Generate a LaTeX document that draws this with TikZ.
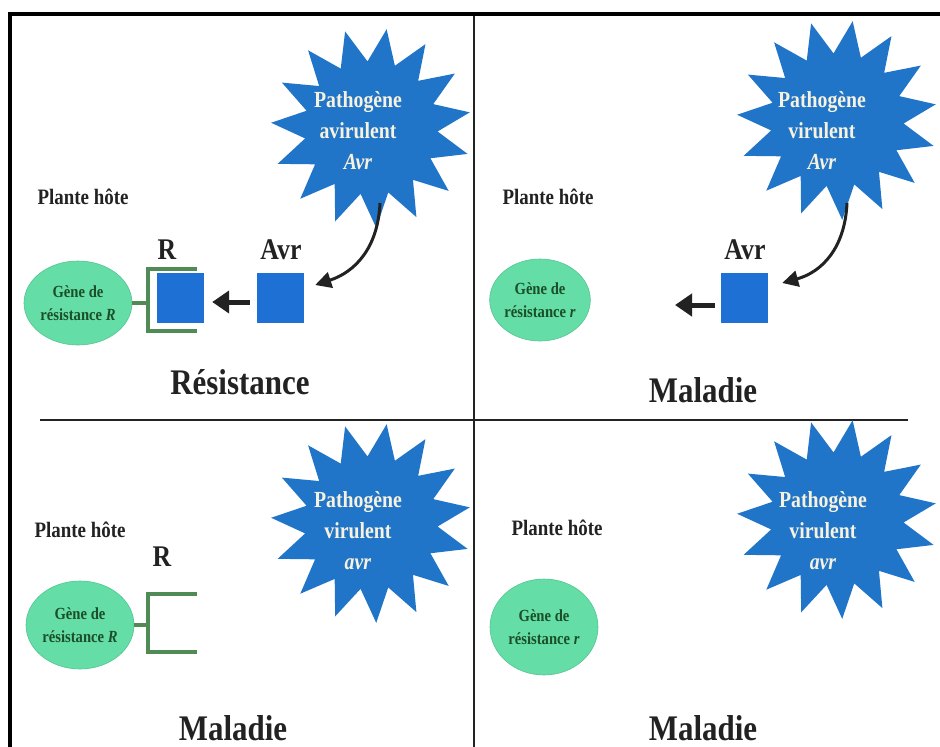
\documentclass[tikz,border=0pt]{standalone}
\usepackage{fontspec}
\setmainfont{Liberation Serif}
\newfontfamily\cf[FakeStretch=0.86]{Liberation Serif}
\usetikzlibrary{shapes.geometric,arrows.meta}
\definecolor{starblue}{RGB}{33,117,201}
\definecolor{sqblue}{RGB}{30,112,212}
\definecolor{mint}{RGB}{100,222,166}
\definecolor{mintedge}{RGB}{84,196,146}
\definecolor{gtext}{RGB}{28,78,40}
\definecolor{brgreen}{RGB}{80,138,84}
\definecolor{cream}{RGB}{246,242,222}
\definecolor{ink}{RGB}{34,34,34}
\begin{document}
\begin{tikzpicture}[x=1pt,y=-1pt,
 burst/.style={star,star points=15,star point ratio=1.5,minimum size=200pt,inner sep=0pt,fill=starblue,draw=none,shape border rotate=-9},
 bursttext/.style={text=cream,font=\cf\bfseries\fontsize{23}{31}\selectfont,align=center,inner sep=0pt},
 gene/.style={ellipse,fill=mint,draw=mintedge,line width=0.6pt,inner sep=0pt,text=gtext,font=\cf\bfseries\fontsize{17}{23}\selectfont,align=center},
 prot/.style={rectangle,fill=sqblue,minimum width=47pt,minimum height=50pt,inner sep=0pt},
 hostlbl/.style={font=\cf\bfseries\fontsize{22}{24}\selectfont,text=ink,inner sep=0pt},
 protlbl/.style={font=\cf\bfseries\fontsize{30}{32}\selectfont,text=ink,inner sep=0pt},
 outcome/.style={font=\cf\bfseries\fontsize{36}{40}\selectfont,text=ink,inner sep=0pt},
 bracket/.style={draw=brgreen,line width=3.5pt},
 push/.style={draw=ink,line width=5pt,-{Triangle[length=17pt,width=22pt]}},
 secrete/.style={draw=ink,line width=3pt,-{Triangle[length=16pt,width=16pt]}},
 frameline/.style={line width=4.5pt,draw=black,line join=miter},
 divider/.style={line width=2.8pt,draw=ink}
]
\useasboundingbox (0,0) rectangle (940,747);
\fill[white] (0,0) rectangle (940,747);

% frame and dividers
\draw[frameline] (10,752) -- (10,14) -- (945,14);
\draw[divider] (474,16) -- (474,752);
\draw[divider] (40,420) -- (908,420);

% ---------- top left: Resistance ----------
\node[burst] (st1) at (371,128) {};
\node[bursttext] (st1t) at (358,131) {Pathogène\\avirulent\\\textit{Avr}};
\node[hostlbl] (h1) at (83,197) {Plante hôte};
\node[gene,minimum width=108pt,minimum height=84pt] (g1) at (78,303) {Gène de\\résistance \textit{R}};
\node[prot] (r1) at (180.5,298) {};
\node[prot] (a1) at (280.5,298) {};
\node[protlbl] (r1l) at (167,250) {R};
\node[protlbl] (a1l) at (281,250) {Avr};
\node[outcome] (o1) at (240,382) {Résistance};
\coordinate (b1) at (148,303);
\draw[bracket] (g1.east) -- (b1);
\draw[bracket] (197,269) -- (148,269) -- (148,331) -- (197,331);
\draw[push] ([xshift=-7pt,yshift=-4pt]a1.west) -- ([xshift=8pt,yshift=-4pt]r1.east);
\coordinate (c1) at (380,203);
\draw[secrete] (c1) .. controls (378,248) and (355,272) .. ([xshift=11pt,yshift=13pt]a1.east);

% ---------- top right: Maladie ----------
\node[burst] (st2) at (837,120) {};
\node[bursttext] (st2t) at (822,131) {Pathogène\\virulent\\\textit{Avr}};
\node[hostlbl] (h2) at (548,197) {Plante hôte};
\node[gene,minimum width=100pt,minimum height=82pt] (g2) at (540,300) {Gène de\\résistance \textit{r}};
\node[prot] (a2) at (744.5,298) {};
\node[protlbl] (a2l) at (745,250) {Avr};
\node[outcome] (o2) at (703,390) {Maladie};
\coordinate (t2) at (675,305);
\draw[push] ([xshift=-6pt,yshift=-7pt]a2.west) -- (t2);
\coordinate (c2) at (847,203);
\draw[secrete] (c2) .. controls (845,248) and (822,272) .. ([xshift=14pt,yshift=15pt]a2.east);

% ---------- bottom left: Maladie ----------
\node[burst] (st3) at (371,523) {};
\node[bursttext] (st3t) at (358,531) {Pathogène\\virulent\\\textit{avr}};
\node[hostlbl] (h3) at (80,530) {Plante hôte};
\node[protlbl] (r3l) at (162,557) {R};
\node[gene,minimum width=108pt,minimum height=88pt] (g3) at (80,625) {Gène de\\résistance \textit{R}};
\coordinate (b3) at (148,625);
\draw[bracket] (g3.east) -- (b3);
\draw[bracket] (197,594) -- (148,594) -- (148,652) -- (197,652);
\node[outcome] (o3) at (233,728) {Maladie};

% ---------- bottom right: Maladie ----------
\node[burst] (st4) at (837,519) {};
\node[bursttext] (st4t) at (823,531) {Pathogène\\virulent\\\textit{avr}};
\node[hostlbl] (h4) at (557,528) {Plante hôte};
\node[gene,minimum width=108pt,minimum height=96pt] (g4) at (544,627) {Gène de\\résistance \textit{r}};
\node[outcome] (o4) at (703,728) {Maladie};
\end{tikzpicture}
\end{document}
